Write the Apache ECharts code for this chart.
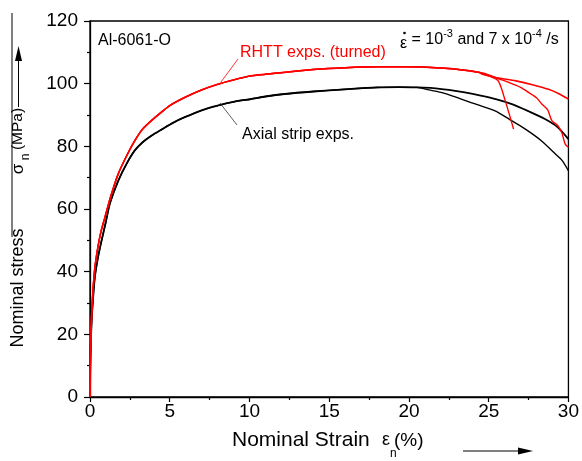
<!DOCTYPE html>
<html>
<head>
<meta charset="utf-8">
<script src="https://cdn.jsdelivr.net/npm/echarts@6/dist/echarts.min.js"></script>
<style>html,body{margin:0;padding:0;background:#fff;}#c{width:582px;height:461px;}</style>
</head>
<body>
<div id="c"></div>
<script>
// ---- data (strain %, nominal stress MPa) ----
const xTicks = [0, 5, 10, 15, 20, 25, 30];
const yTicks = [0, 20, 40, 60, 80, 100, 120];

// RHTT (turned) – common part of the three red curves
const redBaseStrain = [0, 0.03, 0.1, 0.2, 0.31, 0.5, 0.7, 0.94, 1.3, 1.77, 2.3, 2.81, 3.3, 3.85, 4.5, 5.0, 5.94, 7.0, 8.0, 9.0, 10.1, 11.0, 12.2, 14.0, 16.0, 18.0, 20.0, 22.0, 23.5, 24.4];
const redBaseStress = [0, 14, 26, 35, 41.5, 48, 53, 57.4, 64, 71.2, 77, 81.8, 85.5, 88.2, 91, 93, 95.6, 98, 99.8, 101.2, 102.5, 103.0, 103.6, 104.5, 105.1, 105.4, 105.4, 105.0, 104.3, 103.6];
// tails of each red specimen
const redAStrain = [25.0, 25.6, 26.04, 26.56];
const redAStress = [102.5, 100.9, 94.5, 85.5];
const redBStrain = [24.8, 25.5, 26.25, 27.0, 27.5, 28.0, 28.33, 28.7, 28.96, 29.3, 29.58, 29.8, 30];
const redBStress = [103.2, 101.8, 100.4, 98.8, 97.2, 95.5, 93.5, 91.6, 88.2, 86.8, 84.4, 80.7, 79.7];
const redCStrain = [24.6, 25.5, 26.7, 27.8, 28.75, 29.4, 30];
const redCStress = [103.0, 101.9, 100.9, 99.6, 98.2, 96.8, 95.1];

// Axial strip – common part of the two black curves
const blkBaseStrain = [0, 0.03, 0.1, 0.2, 0.31, 0.5, 0.73, 1.0, 1.25, 1.77, 2.3, 2.81, 3.3, 3.85, 4.5, 5.2, 5.94, 7.0, 8.0, 9.0, 10.1, 11.0, 12.2, 14.0, 16.0, 18.0, 19.4, 20.5];
const blkBaseStress = [0, 13, 24, 32, 38.5, 44.5, 50, 56, 61.8, 69, 74.5, 78.7, 81.3, 83.4, 85.4, 87.5, 89.3, 91.5, 93, 94.2, 95.1, 95.9, 96.7, 97.5, 98.2, 98.8, 98.9, 98.8];
const blkCStrain = [21.5, 22.5, 23.5, 24.5, 25.5, 26.5, 27.5, 28.5, 29.3, 30];
const blkCStress = [98.6, 98.0, 97.2, 96.2, 95.0, 93.4, 91.2, 88.8, 86.2, 82.3];
const blkDStrain = [21.25, 22.0, 22.7, 24.0, 25.4, 26.3, 27.3, 28.3, 29.2, 29.6, 30];
const blkDStress = [98.0, 97.2, 96.1, 93.8, 91.3, 88.6, 85.5, 81.8, 77.5, 75.5, 72.2];

function pairs(xs, ys) { return xs.map((x, i) => [x, ys[i]]); }
function curve(bx, by, tx, ty) { return pairs(bx.concat(tx), by.concat(ty)); }

const FONT = '"Liberation Sans", Arial, sans-serif';
const chart = echarts.init(document.getElementById('c'), null, {renderer: 'canvas'});

function lineSeries(data, color, w) {
  return {type: 'line', data: data, showSymbol: false, smooth: 0.25, animation: false,
    lineStyle: {color: color, width: w}, z: 3};
}

chart.setOption({
  animation: false,
  backgroundColor: '#fff',
  grid: {left: 90, top: 21, right: 12, bottom: 64, show: true, borderColor: '#000', borderWidth: 1.3, backgroundColor: 'transparent'},
  xAxis: {
    type: 'value', min: xTicks[0], max: xTicks[xTicks.length - 1], interval: 5,
    axisLine: {onZero: false, lineStyle: {color: '#000', width: 1.3}},
    axisTick: {show: true, length: 5, lineStyle: {color: '#000', width: 1.2}},
    minorTick: {show: true, splitNumber: 2, length: 3, lineStyle: {color: '#000', width: 1.2}},
    splitLine: {show: false},
    axisLabel: {color: '#000', fontSize: 19, fontFamily: FONT, margin: 5}
  },
  yAxis: {
    type: 'value', min: yTicks[0], max: yTicks[yTicks.length - 1], interval: 20,
    axisLine: {onZero: false, lineStyle: {color: '#000', width: 1.3}},
    axisTick: {show: true, length: 6, lineStyle: {color: '#000', width: 1.2}},
    minorTick: {show: true, splitNumber: 2, length: 3, lineStyle: {color: '#000', width: 1.2}},
    splitLine: {show: false},
    axisLabel: {color: '#000', fontSize: 19, fontFamily: FONT, margin: 12}
  },
  series: [
    lineSeries(curve(blkBaseStrain, blkBaseStress, blkCStrain, blkCStress), '#000', 1.8),
    lineSeries(curve(blkBaseStrain, blkBaseStress, blkDStrain, blkDStress), '#000', 1.4),
    lineSeries(curve(redBaseStrain, redBaseStress, redAStrain, redAStress), '#ff0000', 1.4),
    lineSeries(curve(redBaseStrain, redBaseStress, redBStrain, redBStress), '#ff0000', 1.4),
    lineSeries(curve(redBaseStrain, redBaseStress, redCStrain, redCStress), '#ff0000', 1.6)
  ],
  graphic: [
    // annotations
    {type: 'text', left: 98, top: 33, z: 10, style: {text: 'Al-6061-O', fontSize: 16, fontFamily: FONT, fill: '#000'}},
    {type: 'text', left: 400, top: 28, z: 10, style: {
      text: '{e|ε} = 10{s|-3} and 7 x 10{s|-4} /s', fontFamily: FONT, fill: '#000', fontSize: 16,
      rich: {e: {fontSize: 16, fontFamily: FONT, lineHeight: 24, verticalAlign: 'bottom'},
             s: {fontSize: 11, fontFamily: FONT, verticalAlign: 'top', lineHeight: 11}}
    }},
    {type: 'circle', z: 10, shape: {cx: 404.5, cy: 33, r: 1.3}, style: {fill: '#000'}},
    {type: 'text', left: 240, top: 45, z: 10, style: {text: 'RHTT exps. (turned)', fontSize: 16, fontFamily: FONT, fill: '#ff0000'}},
    {type: 'line', z: 10, shape: {x1: 238, y1: 59, x2: 221, y2: 82}, style: {stroke: '#ff0000', lineWidth: 0.8}},
    {type: 'text', left: 242, top: 127, z: 10, style: {text: 'Axial strip exps.', fontSize: 16, fontFamily: FONT, fill: '#000'}},
    {type: 'line', z: 10, shape: {x1: 237, y1: 125, x2: 220, y2: 103}, style: {stroke: '#333', lineWidth: 0.8}},
    // x-axis title
    {type: 'text', left: 232, top: 430, z: 10, style: {text: 'Nominal Strain', fontSize: 21, fontFamily: FONT, fill: '#000'}},
    {type: 'text', left: 382, top: 431, z: 10, style: {text: 'ε', fontSize: 18, fontFamily: FONT, fill: '#000'}},
    {type: 'text', left: 390, top: 448, z: 10, style: {text: 'n', fontSize: 12, fontFamily: FONT, fill: '#000'}},
    {type: 'text', left: 394, top: 431, z: 10, style: {text: '(%)', fontSize: 19, fontFamily: FONT, fill: '#000'}},
    {type: 'line', z: 10, shape: {x1: 463, y1: 451, x2: 522, y2: 451}, style: {stroke: '#000', lineWidth: 1}},
    {type: 'polygon', z: 10, shape: {points: [[533, 451], [518, 447.5], [518, 454.5]]}, style: {fill: '#000'}},
    // y-axis title (rotated)
    {type: 'text', z: 10, x: 18, y: 288, rotation: Math.PI / 2, style: {text: 'Nominal stress', fontSize: 18, fontFamily: FONT, fill: '#000', align: 'center', verticalAlign: 'middle'}},
    {type: 'text', z: 10, x: 18, y: 169, rotation: Math.PI / 2, style: {text: 'σ', fontSize: 17, fontFamily: FONT, fill: '#000', align: 'center', verticalAlign: 'middle'}},
    {type: 'text', z: 10, x: 26, y: 157, rotation: Math.PI / 2, style: {text: 'n', fontSize: 12, fontFamily: FONT, fill: '#000', align: 'center', verticalAlign: 'middle'}},
    {type: 'text', z: 10, x: 18, y: 129, rotation: Math.PI / 2, style: {text: '(MPa)', fontSize: 15.5, fontFamily: FONT, fill: '#000', align: 'center', verticalAlign: 'middle'}},
    {type: 'line', z: 10, shape: {x1: 12, y1: 13, x2: 12, y2: 237}, style: {stroke: '#000', lineWidth: 1}},
    {type: 'line', z: 10, shape: {x1: 18.5, y1: 107, x2: 18.5, y2: 58}, style: {stroke: '#000', lineWidth: 1}},
    {type: 'polygon', z: 10, shape: {points: [[18.5, 46], [15, 61], [22, 61]]}, style: {fill: '#000'}}
  ]
});
</script>
</body>
</html>
